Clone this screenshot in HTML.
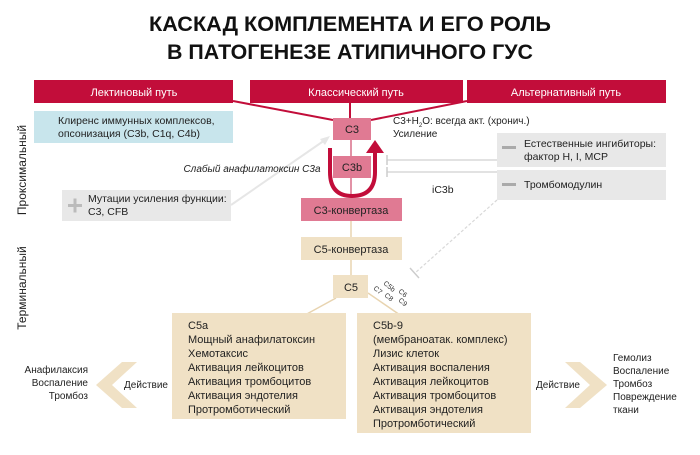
<!DOCTYPE html>
<html><head><meta charset="utf-8"><style>
html,body{margin:0;padding:0;background:#fff;}
svg{display:block;font-family:"Liberation Sans","DejaVu Sans",sans-serif;}
</style></head><body>
<svg width="700" height="455" viewBox="0 0 700 455" xmlns="http://www.w3.org/2000/svg">
<text x="350" y="31" text-anchor="middle" font-size="21" font-weight="bold" textLength="402" lengthAdjust="spacingAndGlyphs" fill="#111">КАСКАД КОМПЛЕМЕНТА И ЕГО РОЛЬ</text>
<text x="350" y="59" text-anchor="middle" font-size="21" font-weight="bold" textLength="366" lengthAdjust="spacingAndGlyphs" fill="#111">В ПАТОГЕНЕЗЕ АТИПИЧНОГО ГУС</text>

<!-- side labels -->
<text transform="translate(26,170) rotate(-90)" text-anchor="middle" font-size="12" fill="#222">Проксимальный</text>
<text transform="translate(26,288) rotate(-90)" text-anchor="middle" font-size="12" fill="#222">Терминальный</text>

<!-- red bars -->
<rect x="34" y="80" width="199" height="23" fill="#c20d3a"/>
<rect x="250" y="80" width="213" height="23" fill="#c20d3a"/>
<rect x="467" y="80" width="199" height="23" fill="#c20d3a"/>
<text x="134" y="96" text-anchor="middle" font-size="11" fill="#fff">Лектиновый путь</text>
<text x="356" y="96" text-anchor="middle" font-size="11" fill="#fff">Классический путь</text>
<text x="566" y="96" text-anchor="middle" font-size="11" fill="#fff">Альтернативный путь</text>

<!-- red connectors -->
<polyline points="233,101 333,120" fill="none" stroke="#c20d3a" stroke-width="2"/>
<line x1="350" y1="103" x2="350" y2="118" stroke="#c20d3a" stroke-width="2"/>
<polyline points="467,101 371,120" fill="none" stroke="#c20d3a" stroke-width="2"/>

<!-- blue box -->
<rect x="34" y="111" width="199" height="32" fill="#c8e5ec"/>
<text x="58" y="124" font-size="10.5" fill="#222">Клиренс иммунных комплексов,</text>
<text x="58" y="137" font-size="10.5" fill="#222">опсонизация (С3b, С1q, С4b)</text>

<!-- center vertical line -->
<line x1="351" y1="140" x2="351" y2="199" stroke="#d96d88" stroke-width="1.5"/>
<line x1="351" y1="221" x2="351" y2="275" stroke="#e8d4b0" stroke-width="1.5"/>

<!-- U arrow -->
<path d="M330,148 L330,172 Q330,196 352,196 Q375,196 375,172 L375,152" fill="none" stroke="#c20d3a" stroke-width="4"/>
<polygon points="366,153 384,153 375,140" fill="#c20d3a"/>

<!-- C3 boxes -->
<rect x="333" y="118" width="38" height="22" fill="#e07a93"/>
<text x="352" y="133" text-anchor="middle" font-size="11" fill="#222">С3</text>
<rect x="333" y="156" width="38" height="22" fill="#e07a93"/>
<text x="352" y="171" text-anchor="middle" font-size="11" fill="#222">С3b</text>
<rect x="301" y="198" width="101" height="23" fill="#e07a93"/>
<text x="351" y="214" text-anchor="middle" font-size="11" fill="#222">С3-конвертаза</text>

<text x="393" y="124" font-size="10" fill="#222">С3+H<tspan font-size="6" dy="3">2</tspan><tspan dy="-3">O: всегда акт. (хронич.)</tspan></text>
<text x="393" y="137" font-size="10" fill="#222">Усиление</text>

<!-- inhibitors -->
<rect x="497" y="133" width="169" height="34" fill="#e8e8e8"/>
<rect x="497" y="170" width="169" height="30" fill="#e8e8e8"/>
<rect x="502" y="146" width="14" height="3" fill="#aaa"/>
<rect x="502" y="183" width="14" height="3" fill="#aaa"/>
<text x="524" y="147" font-size="10.5" fill="#222">Естественные ингибиторы:</text>
<text x="524" y="160" font-size="10.5" fill="#222">фактор H, I, MCP</text>
<text x="524" y="188" font-size="10.5" fill="#222">Тромбомодулин</text>
<line x1="497" y1="160" x2="387" y2="160" stroke="#e2e2e2" stroke-width="2"/>
<line x1="387" y1="155" x2="387" y2="165" stroke="#ccc" stroke-width="1.5"/>
<line x1="497" y1="172" x2="387" y2="172" stroke="#e2e2e2" stroke-width="2"/>
<line x1="387" y1="167" x2="387" y2="177" stroke="#ccc" stroke-width="1.5"/>
<text x="432" y="193" font-size="10.5" fill="#222">iC3b</text>
<line x1="497" y1="200" x2="415" y2="273" stroke="#d8d8d8" stroke-width="1.2" stroke-dasharray="3,2"/>
<line x1="410" y1="268" x2="419" y2="278" stroke="#ccc" stroke-width="1.5"/>

<!-- mutations box -->
<rect x="62" y="190" width="169" height="31" fill="#e8e8e8"/>
<rect x="68" y="204" width="14" height="3" fill="#bbb"/>
<rect x="73.5" y="198.5" width="3" height="14" fill="#bbb"/>
<text x="88" y="202" font-size="10.5" fill="#222">Мутации усиления функции:</text>
<text x="88" y="215" font-size="10.5" fill="#222">С3, CFB</text>
<line x1="231" y1="205" x2="325" y2="140" stroke="#e6e6e6" stroke-width="2"/>
<polygon points="330,136 320,139 325,145" fill="#e6e6e6"/>
<text x="252" y="172" text-anchor="middle" font-size="10" font-style="italic" fill="#222">Слабый анафилатоксин С3а</text>

<!-- C5 -->
<rect x="301" y="237" width="101" height="23" fill="#f0e1c5"/>
<text x="351" y="253" text-anchor="middle" font-size="11" fill="#222">С5-конвертаза</text>
<line x1="336" y1="298" x2="305" y2="315" stroke="#e8d4b0" stroke-width="1.5"/>
<line x1="368" y1="293" x2="400" y2="315" stroke="#e8d4b0" stroke-width="1.5"/>
<rect x="333" y="275" width="35" height="23" fill="#f0e1c5"/>
<text x="351" y="291" text-anchor="middle" font-size="11" fill="#222">С5</text>
<g font-size="7" fill="#333">
<text transform="translate(383,284) rotate(40)">С5b</text>
<text transform="translate(373,289) rotate(40)">С7</text>
<text transform="translate(384,296) rotate(40)">С8</text>
<text transform="translate(398,292) rotate(40)">С6</text>
<text transform="translate(398,301) rotate(40)">С9</text>
</g>

<!-- effect boxes -->
<rect x="172" y="313" width="174" height="106" fill="#f0e1c5"/>
<g font-size="11" fill="#222">
<text x="188" y="329">С5а</text>
<text x="188" y="343">Мощный анафилатоксин</text>
<text x="188" y="357">Хемотаксис</text>
<text x="188" y="371">Активация лейкоцитов</text>
<text x="188" y="385">Активация тромбоцитов</text>
<text x="188" y="399">Активация эндотелия</text>
<text x="188" y="413">Протромботический</text>
</g>
<rect x="357" y="313" width="174" height="120" fill="#f0e1c5"/>
<g font-size="11" fill="#222">
<text x="373" y="329">С5b-9</text>
<text x="373" y="343">(мембраноатак. комплекс)</text>
<text x="373" y="357">Лизис клеток</text>
<text x="373" y="371">Активация воспаления</text>
<text x="373" y="385">Активация лейкоцитов</text>
<text x="373" y="399">Активация тромбоцитов</text>
<text x="373" y="413">Активация эндотелия</text>
<text x="373" y="427">Протромботический</text>
</g>

<!-- chevrons -->
<polygon points="122,362 137,362 112,385 137,408 122,408 96,385" fill="#f0e1c5"/>
<polygon points="565,362 580,362 607,385 580,408 565,408 590,385" fill="#f0e1c5"/>
<text x="168" y="388" text-anchor="end" font-size="10" fill="#222">Действие</text>
<text x="536" y="388" font-size="10" fill="#222">Действие</text>
<g font-size="10" fill="#222" text-anchor="end">
<text x="88" y="373">Анафилаксия</text>
<text x="88" y="386">Воспаление</text>
<text x="88" y="399">Тромбоз</text>
</g>
<g font-size="10" fill="#222">
<text x="613" y="361">Гемолиз</text>
<text x="613" y="374">Воспаление</text>
<text x="613" y="387">Тромбоз</text>
<text x="613" y="400">Повреждение</text>
<text x="613" y="413">ткани</text>
</g>
</svg>
</body></html>
